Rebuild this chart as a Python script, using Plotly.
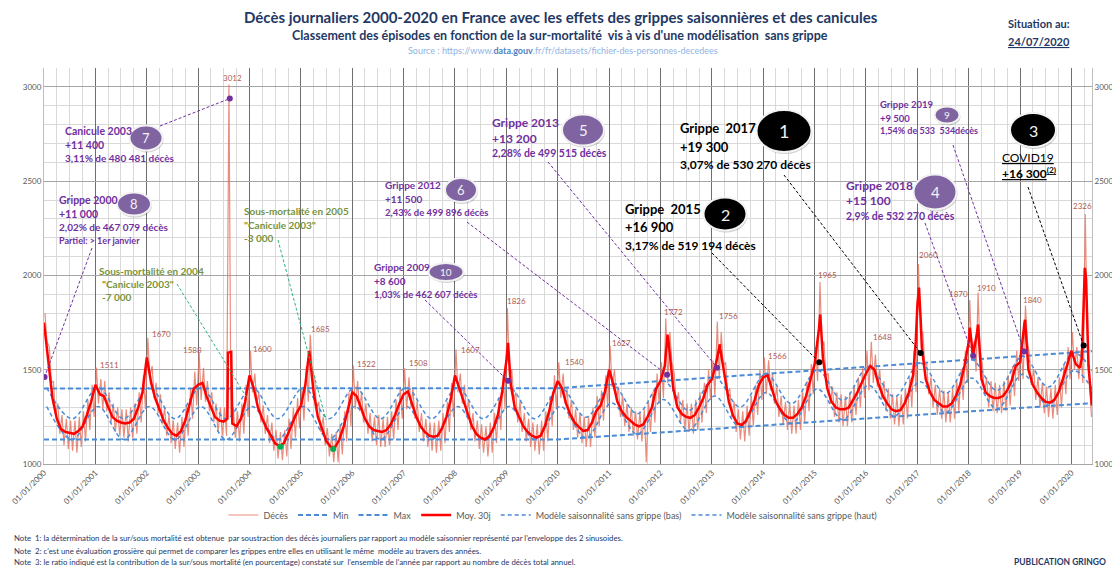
import plotly.graph_objects as go
import pandas as pd

# ------------------------------------------------------------------ data
# Moyenne mobile 30 jours, valeur au 1er de chaque mois (2000-01 .. 2020-05)
moy_30j = [
    1750, 1560, 1350, 1240, 1185, 1170, 1165, 1160, 1175, 1200, 1260, 1330,  # 2000
    1420, 1370, 1360, 1300, 1250, 1230, 1220, 1215, 1220, 1240, 1300, 1380,  # 2001
    1565, 1430, 1350, 1290, 1230, 1190, 1160, 1150, 1175, 1230, 1320, 1400,  # 2002
    1420, 1430, 1360, 1300, 1250, 1230, 1225, 1590, 1215, 1200, 1240, 1330,  # 2003
    1470, 1400, 1300, 1240, 1190, 1150, 1110, 1095, 1110, 1160, 1220, 1270,  # 2004
    1310, 1420, 1600, 1380, 1250, 1180, 1120, 1090, 1090, 1130, 1200, 1290,  # 2005
    1380, 1360, 1300, 1240, 1200, 1180, 1175, 1170, 1180, 1210, 1260, 1320,  # 2006
    1370, 1385, 1320, 1250, 1200, 1170, 1150, 1145, 1150, 1190, 1250, 1340,  # 2007
    1470, 1400, 1340, 1260, 1200, 1160, 1140, 1130, 1145, 1190, 1260, 1380,  # 2008
    1550, 1420, 1300, 1250, 1200, 1170, 1150, 1140, 1150, 1200, 1280, 1380,  # 2009
    1440, 1400, 1320, 1260, 1220, 1195, 1175, 1180, 1220, 1280, 1310, 1380,  # 2010
    1500, 1420, 1330, 1280, 1250, 1230, 1210, 1200, 1210, 1250, 1300, 1400,  # 2011
    1440, 1520, 1630, 1400, 1300, 1265, 1250, 1245, 1260, 1300, 1350, 1420,  # 2012
    1450, 1540, 1610, 1470, 1330, 1255, 1215, 1207, 1230, 1280, 1340, 1420,  # 2013
    1460, 1470, 1400, 1330, 1290, 1260, 1245, 1245, 1265, 1300, 1360, 1450,  # 2014
    1530, 1720, 1560, 1400, 1330, 1300, 1290, 1290, 1300, 1340, 1380, 1430,  # 2015
    1480, 1520, 1500, 1420, 1360, 1320, 1290, 1280, 1285, 1320, 1380, 1470,  # 2016
    1850, 1620, 1450, 1380, 1340, 1320, 1305, 1305, 1320, 1360, 1420, 1520,  # 2017
    1650, 1575, 1700, 1450, 1380, 1360, 1350, 1350, 1360, 1390, 1440, 1520,  # 2018
    1540, 1750, 1500, 1420, 1380, 1350, 1330, 1325, 1340, 1380, 1450, 1530,  # 2019
    1600, 1530, 1510, 2010, 1520,                                            # 2020
]
# points intermédiaires de la moyenne 30j (pics)
moy_extra_dates = ["2003-07-28", "2003-08-24", "2003-08-29", "2009-01-12", "2012-02-20",
                   "2013-02-26", "2015-02-10", "2016-12-20", "2017-01-12", "2017-01-25",
                   "2018-01-08", "2018-03-08", "2019-02-05", "2020-03-15", "2020-03-25",
                   "2020-04-05", "2020-04-14", "2020-04-25", "2020-05-25"]
moy_extra_values = [1240, 1595, 1230, 1642, 1686,
                    1635, 1793, 1650, 1935, 1750,
                    1723, 1740, 1765, 1560, 1850,
                    2040, 1980, 1650, 1310]

# Décès journaliers : valeurs hautes / basses relevées par mois
deces_haut = [
    1800, 1620, 1440, 1320, 1260, 1240, 1230, 1230, 1250, 1280, 1340, 1420,  # 2000
    1511, 1450, 1440, 1380, 1320, 1300, 1290, 1290, 1300, 1320, 1380, 1470,  # 2001
    1670, 1520, 1430, 1370, 1300, 1260, 1230, 1220, 1250, 1310, 1400, 1490,  # 2002
    1588, 1510, 1440, 1380, 1320, 1300, 1300, 3012, 1300, 1280, 1320, 1420,  # 2003
    1600, 1480, 1380, 1310, 1260, 1220, 1180, 1170, 1180, 1240, 1300, 1350,  # 2004
    1400, 1520, 1685, 1460, 1330, 1250, 1190, 1160, 1170, 1210, 1280, 1380,  # 2005
    1522, 1440, 1380, 1320, 1270, 1250, 1260, 1240, 1250, 1280, 1340, 1410,  # 2006
    1508, 1460, 1400, 1330, 1270, 1240, 1220, 1220, 1230, 1270, 1330, 1430,  # 2007
    1607, 1480, 1420, 1340, 1270, 1230, 1210, 1200, 1220, 1270, 1340, 1470,  # 2008
    1826, 1500, 1380, 1330, 1270, 1240, 1220, 1210, 1230, 1280, 1360, 1470,  # 2009
    1540, 1480, 1400, 1340, 1290, 1270, 1250, 1250, 1300, 1360, 1390, 1470,  # 2010
    1627, 1500, 1410, 1360, 1320, 1300, 1280, 1280, 1290, 1330, 1380, 1480,  # 2011
    1540, 1772, 1700, 1480, 1380, 1340, 1320, 1320, 1340, 1380, 1430, 1500,  # 2012
    1550, 1756, 1700, 1540, 1400, 1330, 1290, 1280, 1310, 1360, 1420, 1500,  # 2013
    1566, 1550, 1480, 1410, 1360, 1330, 1320, 1310, 1340, 1380, 1440, 1530,  # 2014
    1620, 1965, 1650, 1480, 1410, 1380, 1370, 1360, 1380, 1420, 1460, 1510,  # 2015
    1600, 1648, 1580, 1500, 1440, 1400, 1370, 1360, 1370, 1400, 1460, 1600,  # 2016
    2060, 1700, 1530, 1460, 1420, 1400, 1390, 1380, 1400, 1440, 1500, 1600,  # 2017
    1870, 1650, 1910, 1530, 1460, 1440, 1430, 1420, 1440, 1470, 1520, 1600,  # 2018
    1640, 1840, 1580, 1500, 1460, 1430, 1410, 1400, 1420, 1460, 1530, 1620,  # 2019
    1700, 1620, 1600, 2326, 1450,                                            # 2020
]
deces_bas = [
    1650, 1430, 1260, 1160, 1100, 1080, 1070, 1060, 1090, 1120, 1180, 1250,  # 2000
    1320, 1290, 1280, 1220, 1170, 1150, 1140, 1120, 1140, 1160, 1220, 1290,  # 2001
    1460, 1350, 1270, 1210, 1150, 1110, 1080, 1060, 1090, 1150, 1240, 1310,  # 2002
    1340, 1330, 1280, 1220, 1170, 1150, 1150, 1250, 1140, 1120, 1160, 1250,  # 2003
    1380, 1320, 1220, 1160, 1110, 1070, 1030, 1020, 1040, 1080, 1140, 1190,  # 2004
    1230, 1330, 1500, 1290, 1170, 1100, 1040, 1010, 1010, 1050, 1120, 1200,  # 2005
    1290, 1280, 1220, 1160, 1120, 1100, 1090, 1090, 1100, 1130, 1180, 1240,  # 2006
    1290, 1300, 1240, 1170, 1120, 1090, 1070, 1060, 1070, 1110, 1170, 1250,  # 2007
    1380, 1320, 1260, 1180, 1120, 1080, 1060, 1040, 1060, 1110, 1180, 1290,  # 2008
    1460, 1340, 1220, 1170, 1120, 1090, 1070, 1050, 1070, 1120, 1200, 1290,  # 2009
    1350, 1320, 1240, 1180, 1140, 1110, 1090, 1090, 1140, 1200, 1230, 1300,  # 2010
    1410, 1340, 1250, 1200, 1170, 1150, 1130, 1120, 1010, 1170, 1220, 1320,  # 2011
    1350, 1430, 1540, 1310, 1220, 1180, 1170, 1160, 1180, 1220, 1270, 1340,  # 2012
    1360, 1450, 1520, 1380, 1250, 1170, 1130, 1120, 1150, 1200, 1260, 1340,  # 2013
    1370, 1390, 1320, 1250, 1210, 1180, 1160, 1160, 1180, 1220, 1280, 1370,  # 2014
    1440, 1620, 1470, 1320, 1250, 1220, 1200, 1200, 1220, 1260, 1300, 1350,  # 2015
    1390, 1430, 1410, 1340, 1280, 1240, 1210, 1200, 1210, 1240, 1300, 1380,  # 2016
    1700, 1530, 1370, 1300, 1260, 1240, 1220, 1220, 1240, 1280, 1340, 1430,  # 2017
    1560, 1490, 1600, 1370, 1300, 1280, 1270, 1270, 1280, 1310, 1360, 1440,  # 2018
    1450, 1650, 1420, 1340, 1300, 1270, 1250, 1240, 1260, 1300, 1370, 1450,  # 2019
    1500, 1450, 1430, 1700, 1250,                                            # 2020
]

# Modèle saisonnalité sans grippe : maxima (20 janvier) et minima (20 juillet), 2000..2020
modele_haut_pic = [1405, 1405, 1405, 1405, 1405, 1405, 1405, 1405, 1405, 1405, 1405,
                   1422, 1441, 1460, 1478, 1497, 1516, 1535, 1553, 1572, 1590]
modele_haut_creux = [1240, 1240, 1240, 1240, 1240, 1240, 1240, 1240, 1240, 1240, 1248,
                     1266, 1284, 1302, 1320, 1338, 1356, 1374, 1390, 1408, 1425]
modele_bas_pic = [1305, 1305, 1305, 1305, 1305, 1305, 1305, 1305, 1305, 1305, 1305,
                  1323, 1342, 1360, 1379, 1398, 1417, 1436, 1456, 1476, 1495]
modele_bas_creux = [1130, 1130, 1130, 1130, 1130, 1130, 1130, 1130, 1130, 1130, 1140,
                    1159, 1178, 1197, 1216, 1235, 1254, 1273, 1292, 1311, 1330]
modele_annees = list(range(2000, 2021))

# Enveloppes Min / Max
env_dates = ["2000-01-01", "2010-01-01", "2020-05-26"]
env_min = [1130, 1130, 1323]
env_max = [1400, 1402, 1598]

# Pics journaliers étiquetés
pic_dates = ["2001-01-08", "2002-01-08", "2003-01-08", "2003-08-08", "2004-01-08", "2005-03-08",
             "2006-01-08", "2007-01-08", "2008-01-08", "2009-01-08", "2010-01-08", "2011-01-08",
             "2012-02-08", "2013-02-08", "2014-01-08", "2015-02-08", "2016-02-08", "2017-01-08",
             "2018-01-08", "2018-03-08", "2019-02-08", "2020-04-08"]
pic_valeurs = [1511, 1670, 1588, 3012, 1600, 1685,
               1522, 1508, 1607, 1826, 1540, 1627,
               1772, 1756, 1566, 1965, 1648, 2060,
               1870, 1910, 1840, 2326]

# Points repères des épisodes
rep_dates = ["2000-01-05", "2003-08-14", "2004-08-08", "2005-08-18", "2009-01-12", "2012-02-17",
             "2013-02-06", "2015-02-03", "2017-01-23", "2018-02-01", "2019-01-30", "2020-03-28"]
rep_valeurs = [1461, 2938, 1092, 1080, 1441, 1473, 1511, 1539, 1589, 1574, 1597, 1628]
rep_type = ["grippe", "grippe", "sous", "sous", "grippe", "grippe",
            "grippe", "top", "top", "grippe", "grippe", "top"]

# ------------------------------------------------------------------ geometry helpers
# the page body has an 8px margin: figure is drawn from (8, 8)
OFF = 8
W, H = 1120 - OFF, 567 - OFF
L, R, T, B = 44, 1092, 68, 464          # plot area in reference pixels
X0, X1 = pd.Timestamp("2000-01-01"), pd.Timestamp("2020-05-26")
Y0, Y1 = 1000, 3100


def px(x):
    return (x - L) / (R - L)


def py(y):
    return (B - y) / (B - T)


def dx(d):
    return (pd.Timestamp(d) - X0) / (X1 - X0)


def dy(v):
    return (v - Y0) / (Y1 - Y0)


FONT = "Lato"
PURPLE = "#7030A0"
OLIVE = "#77933C"
NAVY = "#1F3864"
BLUE = "#4A8BD6"
GREY = "#595959"

# ------------------------------------------------------------------ series
months = pd.date_range("2000-01-01", periods=len(moy_30j), freq="MS")
moy = pd.concat([pd.Series(moy_30j, index=months),
                 pd.Series(moy_extra_values, index=pd.to_datetime(moy_extra_dates))]).sort_index()

hi_dates = months + pd.Timedelta(days=7)
lo_dates = months + pd.Timedelta(days=21)
deces_x, deces_y = [], []
for a, b, va, vb in zip(hi_dates, lo_dates, deces_haut, deces_bas):
    deces_x += [a, b]
    deces_y += [va, vb]

sin_x = []
haut_y, bas_y = [], []
for i, yr in enumerate(modele_annees):
    sin_x += [pd.Timestamp(f"{yr}-01-20"), pd.Timestamp(f"{yr}-07-20")]
    haut_y += [modele_haut_pic[i], modele_haut_creux[i]]
    bas_y += [modele_bas_pic[i], modele_bas_creux[i]]

fig = go.Figure()
fig.add_trace(go.Scatter(x=deces_x, y=deces_y, mode="lines", name="Décès",
                         line=dict(color="rgba(226,112,92,0.8)", width=1.2), legendrank=1))
fig.add_trace(go.Scatter(x=pd.to_datetime(env_dates), y=env_min, mode="lines", name="Min",
                         line=dict(color=BLUE, width=2, dash="5px,3px"), legendrank=2))
fig.add_trace(go.Scatter(x=pd.to_datetime(env_dates), y=env_max, mode="lines", name="Max",
                         line=dict(color=BLUE, width=2, dash="5px,3px"), legendrank=3))
fig.add_trace(go.Scatter(x=sin_x, y=bas_y, mode="lines", name="Modèle saisonnalité sans grippe (bas)",
                         line=dict(color=BLUE, width=1.5, dash="4px,3px", shape="spline"), legendrank=5))
fig.add_trace(go.Scatter(x=sin_x, y=haut_y, mode="lines", name="Modèle saisonnalité sans grippe (haut)",
                         line=dict(color=BLUE, width=1.5, dash="4px,3px", shape="spline"), legendrank=6))
fig.add_trace(go.Scatter(x=moy.index, y=moy.values, mode="lines", name="Moy. 30j",
                         line=dict(color="#FF0000", width=2.5), legendrank=4))
col_map = {"grippe": "#7030A0", "sous": "#00B050", "top": "#000000"}
fig.add_trace(go.Scatter(x=pd.to_datetime(rep_dates), y=rep_valeurs, mode="markers", showlegend=False,
                         marker=dict(size=6, color=[col_map[t] for t in rep_type])))
fig.add_trace(go.Scatter(x=[X0], y=[Y0], yaxis="y2", mode="markers", showlegend=False,
                         marker=dict(opacity=0), hoverinfo="skip"))

ann = []
shapes = []

# peak labels
pic_shift = [(13, 3), (14, 4), (-7, 3), (4, 7), (12, 2), (10, 6),
             (13, 2), (14, 5), (15, 0), (9, 7), (16, 0), (11, 3),
             (8, 6), (11, 5), (13, 1), (8, 7), (11, 5), (10, 9),
             (-11, 6), (8, 4), (7, 6), (-3, 8)]
for d, v, (sx, sy) in zip(pic_dates, pic_valeurs, pic_shift):
    ann.append(dict(x=pd.Timestamp(d), y=v, xref="x", yref="y", text=str(v), showarrow=False,
                    xanchor="center", yanchor="middle",
                    xshift=sx, yshift=sy, font=dict(family=FONT, size=8, color="#B05A52")))

# connector lines: start pixel -> marker
conn = [((160, 126), 1, PURPLE), ((92, 248), 0, PURPLE), ((425, 300), 4, PURPLE),
        ((467, 222), 5, PURPLE), ((548, 162), 6, PURPLE), ((712, 253), 7, "#000000"),
        ((784, 175), 8, "#000000"), ((925, 223), 9, PURPLE), ((953, 145), 10, PURPLE),
        ((1028, 187), 11, "#000000")]
for (sx, sy), idx, c in conn:
    shapes.append(dict(type="line", xref="paper", yref="paper", x0=px(sx), y0=py(sy),
                       x1=dx(rep_dates[idx]), y1=dy(rep_valeurs[idx]),
                       line=dict(color=c, width=1, dash="3px,2px"), layer="above"))
for (x0, y0), (x1, y1) in [((177, 284), (247, 398)), ((278, 240), (326, 420))]:
    shapes.append(dict(type="line", xref="paper", yref="paper", x0=px(x0), y0=py(y0),
                       x1=px(x1), y1=py(y1), line=dict(color="#2DB37A", width=1, dash="3px,2px"),
                       layer="above"))

# circles with numbers
circles = [("7", 146, 138, 33, 25, "#8064A2", 13), ("8", 134, 204, 34, 23, "#8064A2", 13),
           ("10", 446, 272, 35, 18, "#8064A2", 10), ("6", 461, 190, 32, 24, "#8064A2", 13),
           ("5", 583, 130, 42, 31, "#8064A2", 15), ("2", 725, 214, 43, 33, "#000000", 16),
           ("1", 784, 131, 55, 42, "#000000", 18), ("4", 935, 192, 43, 35, "#8064A2", 15),
           ("9", 947, 115, 25, 17, "#8064A2", 10), ("3", 1033, 130, 46, 34, "#000000", 16)]
for num, cx, cy, w, h, fill, fs in circles:
    shapes.append(dict(type="circle", xref="paper", yref="paper",
                       x0=px(cx - w / 2 + 1), x1=px(cx + w / 2 + 1), y0=py(cy + h / 2 + 2), y1=py(cy - h / 2 + 2),
                       fillcolor="rgba(0,0,0,0.18)", line=dict(width=0), layer="above"))
    shapes.append(dict(type="circle", xref="paper", yref="paper",
                       x0=px(cx - w / 2), x1=px(cx + w / 2), y0=py(cy + h / 2), y1=py(cy - h / 2),
                       fillcolor=fill, line=dict(color="#F2F2F2", width=2), layer="above"))
    ann.append(dict(x=px(cx), y=py(cy), xref="paper", yref="paper", text=num, showarrow=False,
                    xanchor="center", yanchor="middle",
                    font=dict(family=FONT, size=fs, color="#F2F2F2")))

# text blocks: one entry per line (left, center y, text, size, color)
lines = [
    (63, 131, "<b>Canicule 2003</b>", 10.5, PURPLE), (63, 145, "<b>+11 400</b>", 10.5, PURPLE),
    (63, 158, "<b>3,11% de 480 481 décès</b>", 10, PURPLE),
    (57, 200, "<b>Grippe 2000</b>", 10.5, PURPLE), (57, 214, "<b>+11 000</b>", 10.5, PURPLE),
    (57, 227, "<b>2,02% de 467 079 décès</b>", 10, PURPLE),
    (57, 240, "<b>Partiel: &gt; 1er janvier</b>", 9, PURPLE),
    (97, 271, "<b>Sous-mortalité en 2004</b>", 10, OLIVE), (100, 284, "<b>\"Canicule 2003\"</b>", 10, OLIVE),
    (100, 297, "<b>-7 000</b>", 10, OLIVE),
    (242, 211, "<b>Sous-mortalité en 2005</b>", 10, OLIVE), (242, 225, "<b>\"Canicule 2003\"</b>", 10, OLIVE),
    (242, 238, "<b>-3 000</b>", 10, OLIVE),
    (372, 267, "<b>Grippe 2009</b>", 10, PURPLE), (372, 281, "<b>+8 600</b>", 10, PURPLE),
    (372, 294, "<b>1,03% de 462 607 décès</b>", 9.5, PURPLE),
    (383, 185, "<b>Grippe 2012</b>", 10, PURPLE), (383, 199, "<b>+11 500</b>", 10, PURPLE),
    (383, 212, "<b>2,43% de 499 896 décès</b>", 9.5, PURPLE),
    (490, 122, "<b>Grippe 2013</b>", 12, PURPLE), (490, 138, "<b>+13 200</b>", 12, PURPLE),
    (490, 153, "<b>2,28% de 499 515 décès</b>", 10.5, PURPLE),
    (623, 209, "<b>Grippe  2015</b>", 13, "#000000"), (623, 227, "<b>+16 900</b>", 13, "#000000"),
    (623, 245, "<b>3,17% de 519 194 décès</b>", 12, "#000000"),
    (678, 128, "<b>Grippe  2017</b>", 13, "#000000"), (678, 147, "<b>+19 300</b>", 13, "#000000"),
    (678, 164, "<b>3,07% de 530 270 décès</b>", 12, "#000000"),
    (844, 185, "<b>Grippe 2018</b>", 12, PURPLE), (844, 200, "<b>+15 100</b>", 12, PURPLE),
    (844, 216, "<b>2,9% de 532 270 décès</b>", 10.5, PURPLE),
    (878, 104, "<b>Grippe 2019</b>", 9.5, PURPLE), (878, 118, "<b>+9 500</b>", 9.5, PURPLE),
    (878, 131, "<b>1,54% de 533  534décès</b>", 9, PURPLE),
    (1000, 157, "<span style='text-decoration:underline'>COVID19</span>", 12, "#000000"),
    (1000, 173, "<span style='text-decoration:underline'><b>+16 300<sup>(2)</sup></b></span>", 12, "#000000"),
]
for x, y, t, s, c in lines:
    ann.append(dict(x=px(x), y=py(y), xref="paper", yref="paper", text=t, showarrow=False,
                    xanchor="left", yanchor="middle", font=dict(family=FONT, size=s, color=c)))


# titles and notes (paper coordinates from pixels)
def top_text(x, y, t, size, color, anchor="center"):
    ann.append(dict(x=px(x), y=py(y), xref="paper", yref="paper", text=t, showarrow=False,
                    xanchor=anchor, yanchor="middle", font=dict(family=FONT, size=size, color=color)))


top_text(561, 17, "<b>Décès journaliers 2000-2020 en France avec les effets des grippes saisonnières et des canicules</b>",
         15, NAVY)
top_text(560, 36, "<b>Classement des épisodes en fonction de la sur-mortalité  vis à vis d'une modélisation  sans grippe</b>",
         12.5, NAVY)
top_text(563, 51, "Source : https://www.<b><span style='color:#4F81BD'>data.gouv</span></b>.fr/fr/datasets/fichier-des-personnes-decedees",
         9, "#8EB4E3")
top_text(1006, 24, "<b>Situation au:</b>", 11, NAVY, "left")
top_text(1006, 41, "<b><span style='text-decoration:underline'>24/07/2020</span></b>", 11, NAVY, "left")
top_text(12, 538, "Note  1: la détermination de la sur/sous mortalité est obtenue  par soustraction des décès journaliers par rapport au modèle saisonnier représenté par l'enveloppe des 2 sinusoides.",
         7.8, NAVY, "left")
top_text(12, 551, "Note  2: c'est une évaluation grossière qui permet de comparer les grippes entre elles en utilisant le même  modèle au travers des années.",
         7.8, NAVY, "left")
top_text(12, 562, "Note  3: le ratio indiqué est la contribution de la sur/sous mortalité (en pourcentage) constaté sur  l'ensemble de l'année par rapport au nombre de décès total annuel.",
         7.8, NAVY, "left")
top_text(1108, 562, "<b>PUBLICATION GRINGO</b>", 8.5, NAVY, "right")

fig.update_layout(
    width=W, height=H,
    margin=dict(l=L - OFF, r=W - (R - OFF), t=T - OFF, b=H - (B - OFF), autoexpand=False),
    paper_bgcolor="white", plot_bgcolor="white",
    font=dict(family=FONT, color=GREY),
    showlegend=True,
    legend=dict(orientation="h", x=px(553), xanchor="center", y=py(515), yanchor="middle",
                font=dict(family=FONT, size=9, color=GREY), bgcolor="rgba(0,0,0,0)",
                itemwidth=30, tracegroupgap=0),
    xaxis=dict(type="date", range=[X0, X1], dtick="M12", tick0="2000-01-01",
               tickformat="%d/%m/%Y", tickangle=-45, tickfont=dict(family=FONT, size=8, color=GREY),
               showgrid=True, gridcolor="#6E6E6E", gridwidth=1.3,
               minor=dict(dtick="M3", showgrid=True, gridcolor="#D9D9D9", gridwidth=1),
               showline=True, linecolor="#A6A6A6", linewidth=1, ticks="", zeroline=False),
    yaxis=dict(range=[Y0, Y1], tickvals=[1000, 1500, 2000, 2500, 3000],
               tickfont=dict(family=FONT, size=8, color=GREY),
               showgrid=True, gridcolor="#A6A6A6", gridwidth=1.3,
               minor=dict(dtick=100, tick0=1000, showgrid=True, gridcolor="#D9D9D9", gridwidth=1),
               showline=True, linecolor="#BFBFBF", zeroline=False, ticks=""),
    yaxis2=dict(range=[Y0, Y1], overlaying="y", side="right", tickvals=[1000, 1500, 2000, 2500, 3000],
                tickfont=dict(family=FONT, size=8, color=GREY), showgrid=False, zeroline=False,
                showline=True, linecolor="#BFBFBF", ticks=""),
    annotations=ann,
    shapes=shapes,
)

fig.write_html("out.html")
